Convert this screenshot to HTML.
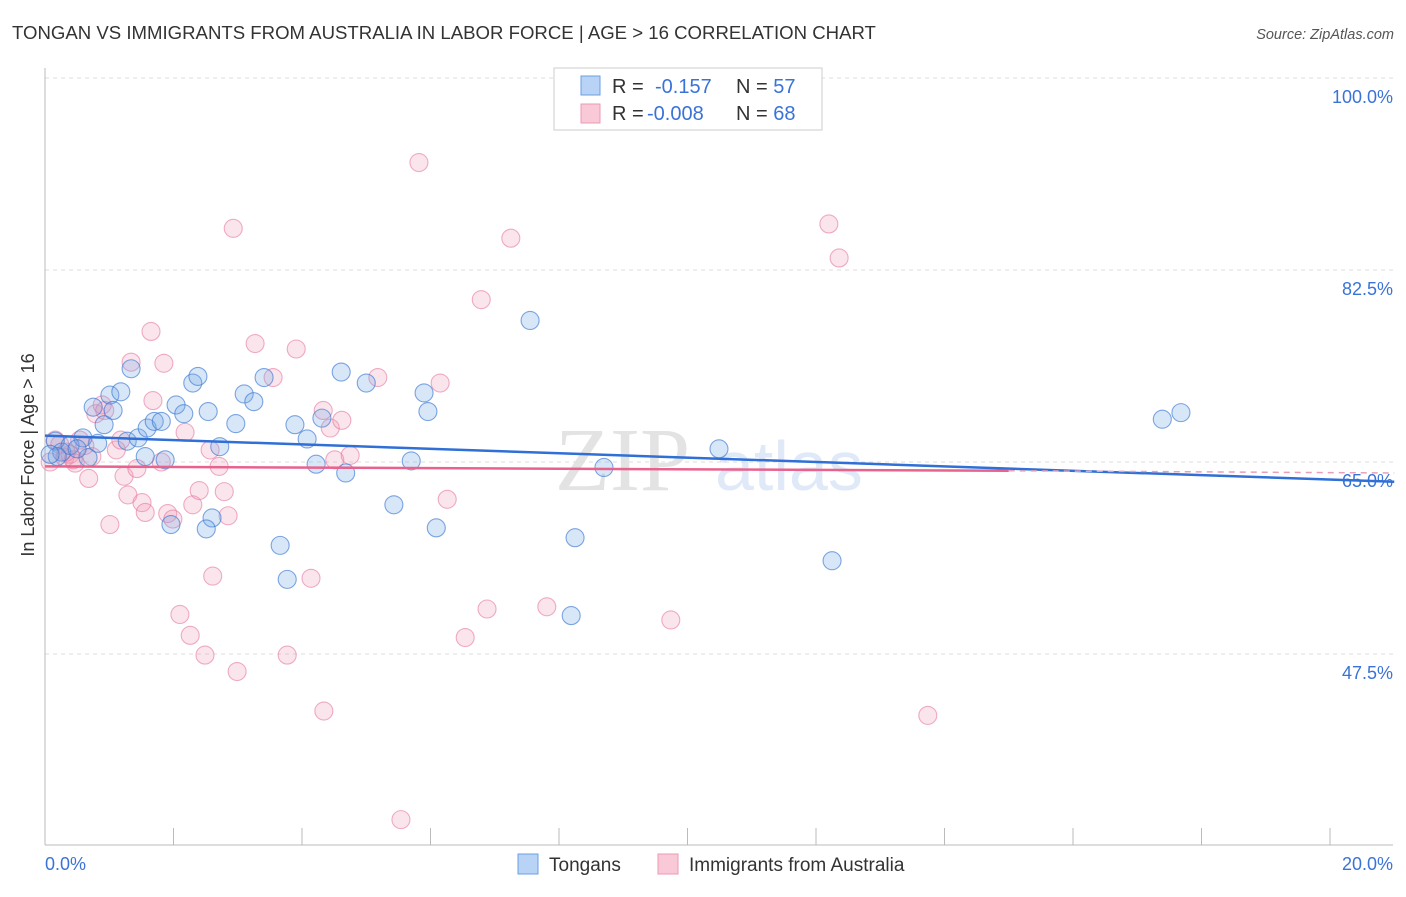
<!DOCTYPE html>
<html><head><meta charset="utf-8"><style>
body{margin:0;background:#fff;font-family:"Liberation Sans",sans-serif;}
</style></head><body>
<svg width="1406" height="892" xmlns="http://www.w3.org/2000/svg" font-family="Liberation Sans, sans-serif">
<text x="12" y="39" font-size="18.6" fill="#333">TONGAN VS IMMIGRANTS FROM AUSTRALIA IN LABOR FORCE | AGE &gt; 16 CORRELATION CHART</text>
<text x="1394" y="39" font-size="14.5" fill="#555" font-style="italic" text-anchor="end">Source: ZipAtlas.com</text>
<g><text x="555" y="490" font-size="90" fill="#e3e3e3" font-family="Liberation Serif, serif">ZIP</text><text x="715" y="490" font-size="70" fill="#dfe9f7">atlas</text></g>
<g id="grid"></g><g id="axes"></g><g id="marks"></g>
<text transform="translate(34,455) rotate(-90)" font-size="18" fill="#333" text-anchor="middle">In Labor Force | Age &gt; 16</text>
<g>
<rect x="554" y="68" width="268" height="62" fill="#fff" stroke="#ccc"/>
<rect x="581" y="76" width="19" height="19" fill="#b8d3f5" stroke="#6a9fe0"/>
<rect x="581" y="104" width="19" height="19" fill="#f9c9d8" stroke="#ec9ab5"/>
<text x="612" y="93" font-size="20" fill="#333">R = <tspan fill="#3a73d8" x="655">-0.157</tspan><tspan fill="#333" x="736">N = </tspan><tspan fill="#3a73d8">57</tspan></text>
<text x="612" y="120" font-size="20" fill="#333">R = <tspan fill="#3a73d8" x="647">-0.008</tspan><tspan fill="#333" x="736">N = </tspan><tspan fill="#3a73d8">68</tspan></text>
</g>
<g>
<rect x="518" y="854" width="20" height="20" fill="#b8d3f5" stroke="#6a9fe0"/>
<text x="549" y="871" font-size="19" fill="#333">Tongans</text>
<rect x="658" y="854" width="20" height="20" fill="#f9c9d8" stroke="#ec9ab5"/>
<text x="689" y="871" font-size="19" fill="#333">Immigrants from Australia</text>
</g>
</svg>
<script>
const yTicks=[100,82.5,65,47.5];
const yTickLabels=["100.0%","82.5%","65.0%","47.5%"];
const xTicks=[0,2,4,6,8,10,12,14,16,18,20];
const xEndLabels=["0.0%","20.0%"];
const blueX=[0.16,0.26,0.39,0.59,0.67,0.82,0.50,0.19,0.75,0.92,1.01,1.06,1.18,1.34,1.28,1.45,1.59,1.70,1.81,1.87,1.56,1.96,2.04,2.16,2.30,2.38,2.54,2.60,2.51,2.72,2.97,3.10,3.25,3.41,3.66,3.77,3.89,4.08,4.22,4.31,4.61,4.68,5.00,5.43,5.70,5.90,5.96,6.09,7.55,8.19,8.25,8.70,10.49,12.25,17.39,17.68,0.08];
const blueY=[66.9,65.9,66.5,67.2,65.4,66.7,66.2,65.5,70.0,68.4,71.1,69.7,71.4,73.5,66.9,67.2,68.1,68.7,68.7,65.2,65.5,59.3,70.2,69.4,72.2,72.8,69.6,59.9,58.9,66.4,68.5,71.2,70.5,72.7,57.4,54.3,68.4,67.1,64.8,69.0,73.2,64.0,72.2,61.1,65.1,71.3,69.6,59.0,77.9,51.0,58.1,64.5,66.2,56.0,68.9,69.5,65.7];
const pinkX=[0.08,0.16,0.23,0.31,0.39,0.47,0.54,0.68,0.73,0.79,0.89,0.93,1.01,1.11,1.18,1.23,1.29,1.34,1.43,1.51,1.56,1.65,1.68,1.81,1.85,1.91,1.99,2.10,2.18,2.26,2.30,2.40,2.49,2.57,2.61,2.71,2.79,2.85,2.93,2.99,3.27,3.55,3.77,3.91,4.14,4.33,4.34,4.44,4.51,4.62,4.75,5.18,5.54,5.82,6.15,6.26,6.54,6.79,6.88,7.25,7.81,9.74,12.20,12.36,13.74,0.33,0.62,0.44];
const pinkY=[65.0,67.0,66.6,65.4,65.7,64.9,67.0,63.5,65.5,69.4,70.2,69.7,59.3,66.1,67.0,63.7,62.0,74.1,64.4,61.3,60.4,76.9,70.6,65.0,74.0,60.3,59.8,51.1,67.7,49.2,61.1,62.4,47.4,66.1,54.6,64.6,62.3,60.1,86.3,45.9,75.8,72.7,47.4,75.3,54.4,69.7,42.3,68.1,65.2,68.8,65.6,72.7,32.4,92.3,72.2,61.6,49.0,79.8,51.6,85.4,51.8,50.6,86.7,83.6,41.9,65.9,66.5,65.2];
const blueTrend=[[0,67.4],[21,63.2]];
const pinkTrend=[[0,64.6],[15,64.2]];
const pinkTrendDash=[[15,64.2],[21,64.0]];
const NS="http://www.w3.org/2000/svg";
const xs=v=>45+v*64.25, ys=v=>462-(v-65)*10.97;
function mk(tag,attrs,parent){const e=document.createElementNS(NS,tag);for(const k in attrs)e.setAttribute(k,attrs[k]);parent.appendChild(e);return e;}
const grid=document.getElementById('grid'),axes=document.getElementById('axes'),marks=document.getElementById('marks');
yTicks.forEach((t,i)=>{
 const l=mk('line',{x1:45,x2:1393,y1:ys(t),y2:ys(t),stroke:'#ddd','stroke-dasharray':'4,4'},grid);
 
 
 const tx=mk('text',{x:1393,y:ys(t)+25,'font-size':18,fill:'#3a73d8','text-anchor':'end'},axes);
 tx.textContent=yTickLabels[i];
 
 
});
const ax=mk('line',{x1:45,x2:1393,y1:845,y2:845,stroke:'#bbb'},axes);


const ay=mk('line',{x1:45,x2:45,y1:68,y2:845,stroke:'#bbb'},axes);


xTicks.forEach(t=>{const l=mk('line',{x1:xs(t),x2:xs(t),y1:828,y2:845,stroke:'#bbb'},axes);
 
 });
[[0,'start',45],[20,'end',1393]].forEach((a,i)=>{const tx=mk('text',{x:a[2],y:870,'font-size':18,fill:'#3a73d8','text-anchor':a[1]},axes);tx.textContent=xEndLabels[i];
 
 });
function pts(X,Y,fill,stroke,name){X.forEach((x,i)=>{const c=mk('circle',{cx:xs(x),cy:ys(Y[i]),r:9,fill:fill,stroke:stroke,'stroke-width':1.1},marks);
 
 });}
pts(pinkX,pinkY,'rgba(240,150,180,0.25)','rgba(230,120,160,0.6)','australia-point');
pts(blueX,blueY,'rgba(110,165,230,0.27)','rgba(60,120,210,0.65)','tongan-point');
function line(p,stroke,w,dash,name){const l=mk('line',{x1:xs(p[0][0]),y1:ys(p[0][1]),x2:xs(p[1][0]),y2:ys(p[1][1]),stroke:stroke,'stroke-width':w},marks);if(dash)l.setAttribute('stroke-dasharray',dash);
 
 }
line(blueTrend,'#2f6fd6',2.5,null,'tongan-trend-line');
line(pinkTrend,'#e8628e',2.5,null,'australia-trend-line');
line(pinkTrendDash,'#e8a0b8',1.5,'6,5','australia-trend-extension');
</script>
</body></html>
